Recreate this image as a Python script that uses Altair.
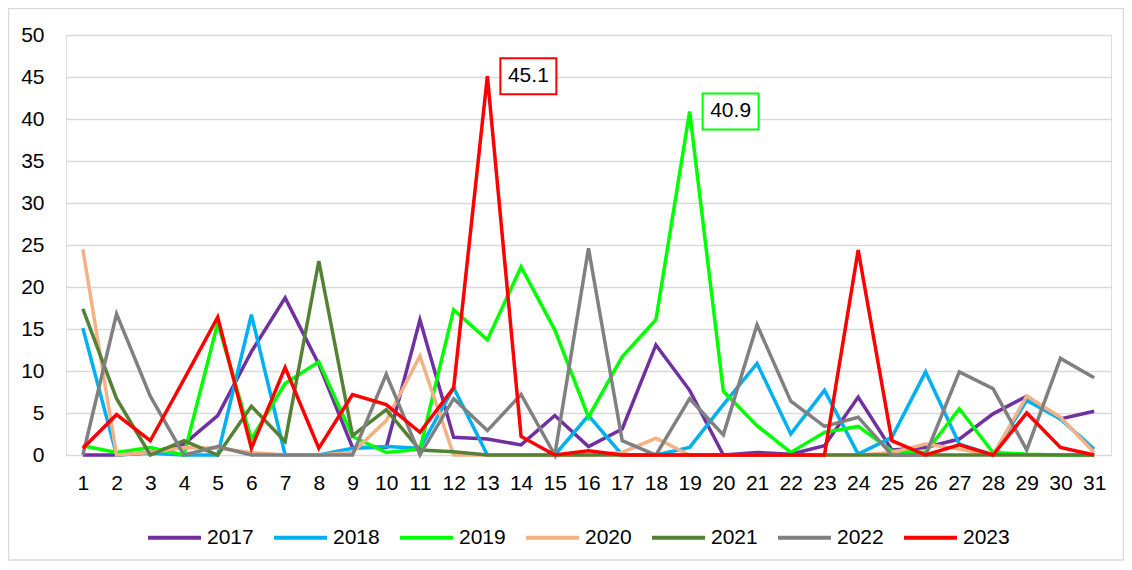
import altair as alt
import pandas as pd

days = list(range(1, 32))
years = ["2017", "2018", "2019", "2020", "2021", "2022", "2023"]
colors = ["#7030A0", "#00B0F0", "#00FF00", "#F4B183", "#548235", "#808080", "#FF0000"]

v2017 = [0, 0, 0.3, 1.3, 4.7, 12.3, 18.7, 10.8, 0.9, 0.9, 16.1, 2.1, 1.9, 1.2, 4.7, 1.0,
         3.1, 13.1, 7.7, 0, 0.3, 0.1, 1.1, 6.9, 0.6, 0.9, 1.9, 4.9, 7.0, 4.3, 5.2]
v2018 = [15.1, 0, 0.2, 0, 0, 16.7, 0, 0, 0.8, 1.0, 0.8, 8.0, 0, 0, 0, 4.7,
         0, 0, 0.9, 6.0, 10.9, 2.5, 7.7, 0.1, 2.1, 9.9, 1.3, 0, 6.5, 4.3, 0.7]
v2019 = [1.1, 0.3, 0.9, 0, 15.7, 1.9, 8.5, 11.1, 2.2, 0.3, 0.7, 17.3, 13.7, 22.4, 14.9, 4.5,
         11.7, 16.1, 40.9, 7.6, 3.5, 0.3, 2.7, 3.4, 0.5, 0.3, 5.5, 0.3, 0.1, 0, 0]
v2020 = [24.5, 0, 0.3, 0.9, 0.8, 0.3, 0, 0, 0.3, 4.1, 11.8, 0, 0, 0, 0, 0,
         0.3, 2.0, 0, 0, 0, 0, 0, 0, 0.3, 1.3, 0.7, 0, 7.0, 4.5, 0.3]
v2021 = [17.4, 6.7, 0, 1.7, 0, 5.8, 1.6, 23.1, 2.3, 5.4, 0.6, 0.4, 0, 0, 0, 0,
         0, 0, 0, 0, 0, 0, 0, 0, 0, 0, 0, 0, 0, 0, 0]
v2022 = [0, 16.8, 7.0, 0, 1.0, 0, 0, 0, 0, 9.6, 0, 6.7, 2.9, 7.2, 0, 24.6,
         1.7, 0, 6.7, 2.4, 15.5, 6.4, 3.4, 4.5, 0, 0, 9.9, 7.9, 0.6, 11.5, 9.2]
v2023 = [0.8, 4.8, 1.7, 9.0, 16.4, 0.8, 10.4, 0.8, 7.2, 6.0, 2.7, 8.0, 45.1, 2.2, 0, 0.5,
         0, 0, 0, 0, 0, 0, 0, 24.4, 1.7, 0, 1.2, 0, 5.0, 0.9, 0]

series = [v2017, v2018, v2019, v2020, v2021, v2022, v2023]

ann_days = [13, 19]
ann_values = [45.1, 40.9]
ann_labels = ["45.1", "40.9"]
ann_colors = ["#FF0000", "#00FF00"]

rows = []
for y, vals in zip(years, series):
    for d, v in zip(days, vals):
        rows.append({"day": d, "value": v, "year": y, "order": years.index(y)})
df = pd.DataFrame(rows)
ann = pd.DataFrame({"day": ann_days, "value": ann_values, "label": ann_labels, "col": ann_colors})

FONT = "Liberation Sans"
FS = 21
W, H = 1045, 420
PL, PT = 58, 27

xscale = alt.Scale(type="point", padding=0.5)
yscale = alt.Scale(domain=[0, 50])

frame = alt.Chart(pd.DataFrame({"a": [0]})).mark_rect(
    fill=None, stroke="#d9d9d9", strokeWidth=1.5
).encode(
    x=alt.value(-PL + 0.5), x2=alt.value(W + 12.5),
    y=alt.value(-PT + 0.5), y2=alt.value(H + 105)
)

lines = alt.Chart(df).mark_line(strokeWidth=3.5).encode(
    x=alt.X("day:O", scale=xscale,
            axis=alt.Axis(title=None, labelAngle=0, domain=False, ticks=False, grid=False,
                          labelPadding=17, labelFontSize=FS, labelFont=FONT, labelColor="#000")),
    y=alt.Y("value:Q", scale=yscale,
            axis=alt.Axis(title=None, values=list(range(0, 51, 5)), domain=False, ticks=False,
                          grid=True, gridColor="#d9d9d9", gridWidth=1.5, labelPadding=22,
                          labelFontSize=FS, labelFont=FONT, labelColor="#000")),
    color=alt.Color("year:N", scale=alt.Scale(domain=years, range=colors),
                    legend=alt.Legend(title=None, orient="none", legendX=80, legendY=474,
                                      direction="horizontal",
                                      columns=7, symbolType="stroke", symbolSize=2809,
                                      symbolStrokeWidth=4, labelFontSize=FS, labelFont=FONT,
                                      labelColor="#000", labelOffset=4, columnPadding=12)),
    order=alt.Order("order:Q"),
)

boxes = alt.Chart(ann).mark_point(
    shape="M-1,-0.643L1,-0.643L1,0.643L-1,0.643Z", size=3136, filled=False,
    fill="white", fillOpacity=1, strokeWidth=2, opacity=1, xOffset=41
).encode(
    x=alt.X("day:O", scale=xscale),
    y=alt.Y("value:Q", scale=yscale),
    stroke=alt.Stroke("col:N", scale=None),
)

texts = alt.Chart(ann).mark_text(
    fontSize=FS, font=FONT, color="#000", xOffset=41, baseline="middle", align="center"
).encode(
    x=alt.X("day:O", scale=xscale),
    y=alt.Y("value:Q", scale=yscale),
    text="label:N",
)

chart = alt.layer(frame, lines, boxes, texts).properties(
    width=W, height=H,
    autosize=alt.AutoSizeParams(type="none"),
    padding={"left": PL, "top": PT, "right": 1116 - PL - W, "bottom": 554 - PT - H},
).configure_view(stroke=None).configure(background="white")

chart.save("out.html", embed_options={"renderer": "svg", "actions": False})
